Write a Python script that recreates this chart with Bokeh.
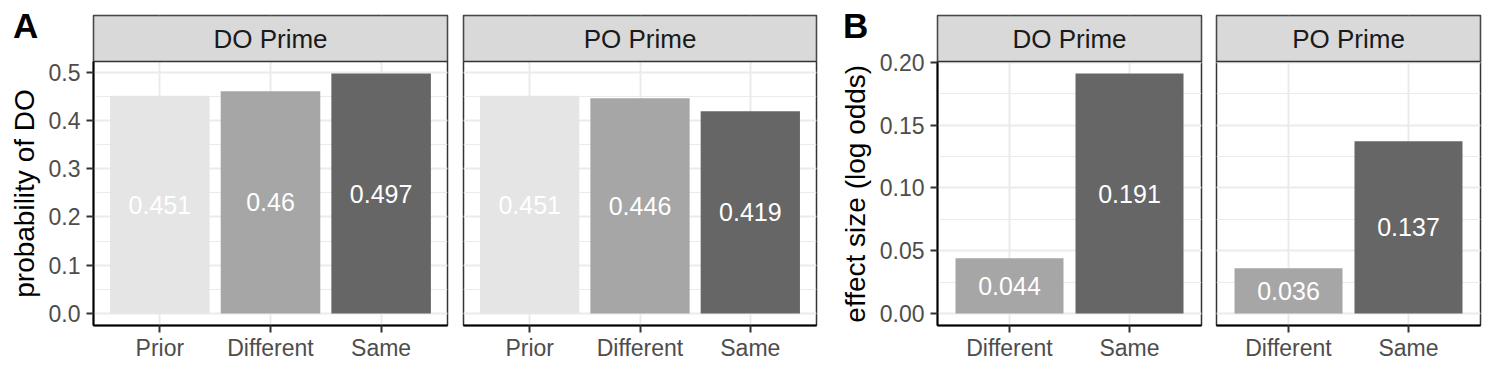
from bokeh.plotting import figure
from bokeh.models import (FactorRange, Range1d, SingleIntervalTicker, Title,
                          PrintfTickFormatter, Label, ColumnDataSource, BoxAnnotation, Div)
from bokeh.layouts import row
from bokeh.embed import file_html
from bokeh.resources import INLINE
from bokeh.core.properties import value

# ---------------- data ----------------
facets = ["DO Prime", "PO Prime"]

a_conditions = ["Prior", "Different", "Same"]
a_do_values = [0.451, 0.46, 0.497]
a_po_values = [0.451, 0.446, 0.419]

b_conditions = ["Different", "Same"]
b_do_values = [0.044, 0.191]
b_po_values = [0.036, 0.137]

a_ylabel = "probability of DO"
b_ylabel = "effect size (log odds)"
panel_letters = ["A", "B"]

condition_colors = {"Prior": "#E5E5E5", "Different": "#A6A6A6", "Same": "#666666"}

FONT = "Liberation Sans"
GRID = "#EBEBEB"
BORDER = "#333333"

HEIGHT = 366
TOP = 15          # page top -> strip top
STRIP_PX = 46     # strip height
PANEL_PX = 264    # panel height
BOTTOM = HEIGHT - TOP - STRIP_PX - PANEL_PX
YTITLE_PX = 28

# advance widths (em) of Liberation Sans, used to centre the y titles on the panel
_W = {" ": .278, "(": .333, ")": .333, "D": .722, "O": .778, "a": .556, "b": .556,
      "c": .5, "d": .556, "e": .556, "f": .278, "g": .556, "i": .222, "l": .222,
      "o": .556, "p": .556, "r": .333, "s": .5, "t": .278, "y": .5, "z": .5}


def text_len(s, size):
    return sum(_W.get(ch, .556) for ch in s) * size


def y_limits(*series):
    vals = [v for s in series for v in s] + [0.0]
    lo, hi = min(vals), max(vals)
    pad = 0.05 * (hi - lo)
    return lo - pad, hi + pad


def make_facet(facet, conds, vals, ylim, interval, fmt, ylabel, width, mbl, mbr):
    lo, hi = ylim
    strip_span = (hi - lo) * STRIP_PX / PANEL_PX
    src = ColumnDataSource(dict(
        cond=conds, val=vals, mid=[v / 2 for v in vals],
        label=[str(round(v, 3)) for v in vals],
        color=[condition_colors[c] for c in conds]))
    p = figure(x_range=FactorRange(*conds, range_padding=0.1, range_padding_units="absolute"),
               y_range=Range1d(lo, hi + strip_span), width=width, height=HEIGHT,
               min_border_left=mbl, min_border_right=mbr, min_border_top=TOP,
               min_border_bottom=BOTTOM, output_backend="svg", toolbar_location=None)
    p.background_fill_color = "white"
    p.border_fill_color = "white"
    p.outline_line_color = BORDER
    p.outline_line_width = 1.5

    p.vbar(x="cond", top="val", bottom=0, width=0.9, fill_color="color",
           line_color=None, source=src)
    p.text(x="cond", y="mid", text="label", text_align="center", text_baseline="middle",
           text_color="white", text_font=value(FONT), text_font_size="25px", source=src)

    # facet strip
    p.add_layout(BoxAnnotation(bottom=hi, fill_color="#D9D9D9", fill_alpha=1.0,
                               line_color=BORDER, line_width=1.5, line_alpha=1.0))
    p.add_layout(Label(x=len(conds) / 2, y=hi + strip_span / 2, text=facet,
                       text_align="center", text_baseline="middle",
                       text_font=FONT, text_font_size="26px", text_color="#1A1A1A"))

    ticker = SingleIntervalTicker(interval=interval, num_minor_ticks=2)
    p.yaxis.ticker = ticker
    p.ygrid.ticker = ticker
    p.yaxis.formatter = PrintfTickFormatter(format=fmt)
    p.yaxis.bounds = (lo, hi)
    p.ygrid.bounds = (lo, hi)

    p.xgrid.grid_line_color = GRID
    p.xgrid.grid_line_width = 2
    p.ygrid.grid_line_color = GRID
    p.ygrid.grid_line_width = 2
    p.ygrid.minor_grid_line_color = GRID
    p.ygrid.minor_grid_line_width = 1

    for ax in (p.xaxis, p.yaxis):
        ax.axis_line_color = "black"
        ax.axis_line_width = 2
        ax.major_tick_line_color = BORDER
        ax.major_tick_line_width = 2
        ax.major_tick_out = 7
        ax.major_tick_in = 0
        ax.minor_tick_line_color = None
        ax.major_label_text_font = FONT
        ax.major_label_text_font_size = "23px"
        ax.major_label_text_color = "#4D4D4D"
    p.xaxis.major_label_standoff = 2
    p.yaxis.major_label_standoff = 6

    if ylabel:
        # y title centred on the panel part only (not on the strip)
        off = PANEL_PX / 2 - text_len(ylabel, YTITLE_PX) / 2
        p.add_layout(Title(text=ylabel, align="left", offset=off, standoff=12,
                           text_font=FONT, text_font_size=f"{YTITLE_PX}px",
                           text_font_style="normal", text_color="black"), "left")
    else:
        p.yaxis.visible = False
    return p


def make_letter(letter, left):
    return Div(text=letter, width=50, height=50,
               styles={"position": "absolute", "left": f"{left}px", "top": "8px",
                       "font-family": FONT, "font-size": "35px", "font-weight": "bold",
                       "line-height": "1", "color": "black", "margin": "0",
                       "padding": "0", "overflow": "visible"})


a_lim = y_limits(a_do_values, a_po_values)
b_lim = y_limits(b_do_values, b_po_values)

# column geometry: (width, min_border_left, min_border_right)
geo = [(455, 93, 8), (375, 8, 14), (378, 107, 7), (279, 8, 7)]

specs = [
    (facets[0], a_conditions, a_do_values, a_lim, 0.1, "%.1f", a_ylabel),
    (facets[1], a_conditions, a_po_values, a_lim, 0.1, "%.1f", None),
    (facets[0], b_conditions, b_do_values, b_lim, 0.05, "%.2f", b_ylabel),
    (facets[1], b_conditions, b_po_values, b_lim, 0.05, "%.2f", None),
]

figs = []
for (fac, conds, vals, lim, iv, fmt, yl), (w, l, r) in zip(specs, geo):
    figs.append(make_facet(fac, conds, vals, lim, iv, fmt, yl, w, l, r))

letters = [make_letter(panel_letters[0], 13), make_letter(panel_letters[1], 843)]

layout = row(*figs, *letters, spacing=0, styles={"position": "relative"})
open("out.html", "w").write(file_html(layout, INLINE))
